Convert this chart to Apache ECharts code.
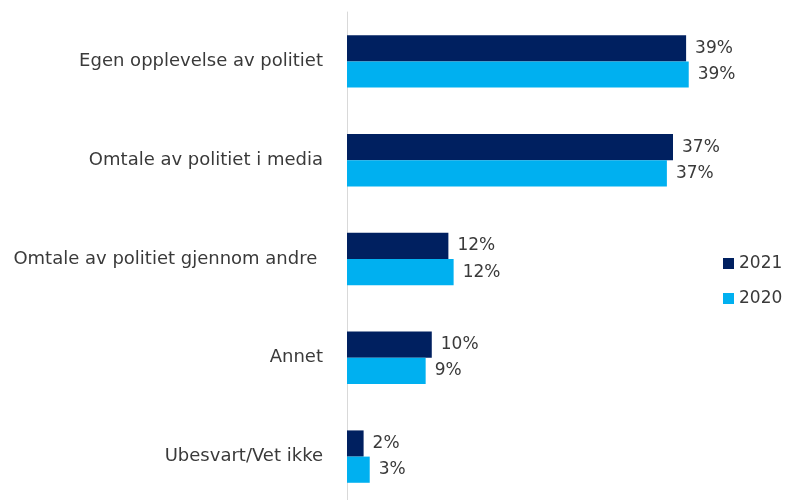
<!DOCTYPE html>
<html>
<head>
<meta charset="utf-8">
<script src="https://cdn.jsdelivr.net/npm/echarts@6/dist/echarts.min.js"></script>
<style>html,body{margin:0;padding:0;background:#fff}#c{width:787px;height:500px}</style>
</head>
<body>
<div id="c"></div>
<script>
var categories = ['Egen opplevelse av politiet', 'Omtale av politiet i media', 'Omtale av politiet gjennom andre ', 'Annet', 'Ubesvart/Vet ikke'];
var values2021 = [38.8, 37.3, 11.6, 9.7, 1.9];
var values2020 = [39.1, 36.6, 12.2, 9.0, 2.6];
var seriesNames = ['2021', '2020'];

var chart = echarts.init(document.getElementById('c'), null, {renderer: 'canvas'});
var font = 'DejaVu Sans';
var lbl = {
  show: true, position: 'right', distance: 9,
  color: '#3a3a3a', fontFamily: font, fontSize: 17,
  formatter: function (p) { return Math.round(p.value) + '%'; }
};
chart.setOption({
  animation: false,
  backgroundColor: '#fff',
  grid: {left: 347, top: 12, width: 437, height: 494, containLabel: false, outerBoundsMode: 'none'},
  legend: {
    orient: 'vertical', left: 718, top: 250, itemWidth: 11, itemHeight: 11, itemGap: 18,
    icon: 'rect',
    textStyle: {color: '#3a3a3a', fontFamily: font, fontSize: 17},
    data: seriesNames
  },
  xAxis: {type: 'value', min: 0, max: 50, show: false},
  yAxis: {
    type: 'category', inverse: true, data: categories,
    axisLine: {show: true, lineStyle: {color: '#d9d9d9', width: 1}},
    axisTick: {show: false},
    axisLabel: {color: '#3a3a3a', fontFamily: font, fontSize: 18, margin: 24, padding: [3, 0, 0, 0]}
  },
  series: [
    {name: seriesNames[0], type: 'bar', data: values2021, barGap: '0%', barCategoryGap: '47%',
     itemStyle: {color: '#002060'}, label: lbl},
    {name: seriesNames[1], type: 'bar', data: values2020, barGap: '0%', barCategoryGap: '47%',
     itemStyle: {color: '#00B0F0'}, label: lbl}
  ]
});
</script>
</body>
</html>
